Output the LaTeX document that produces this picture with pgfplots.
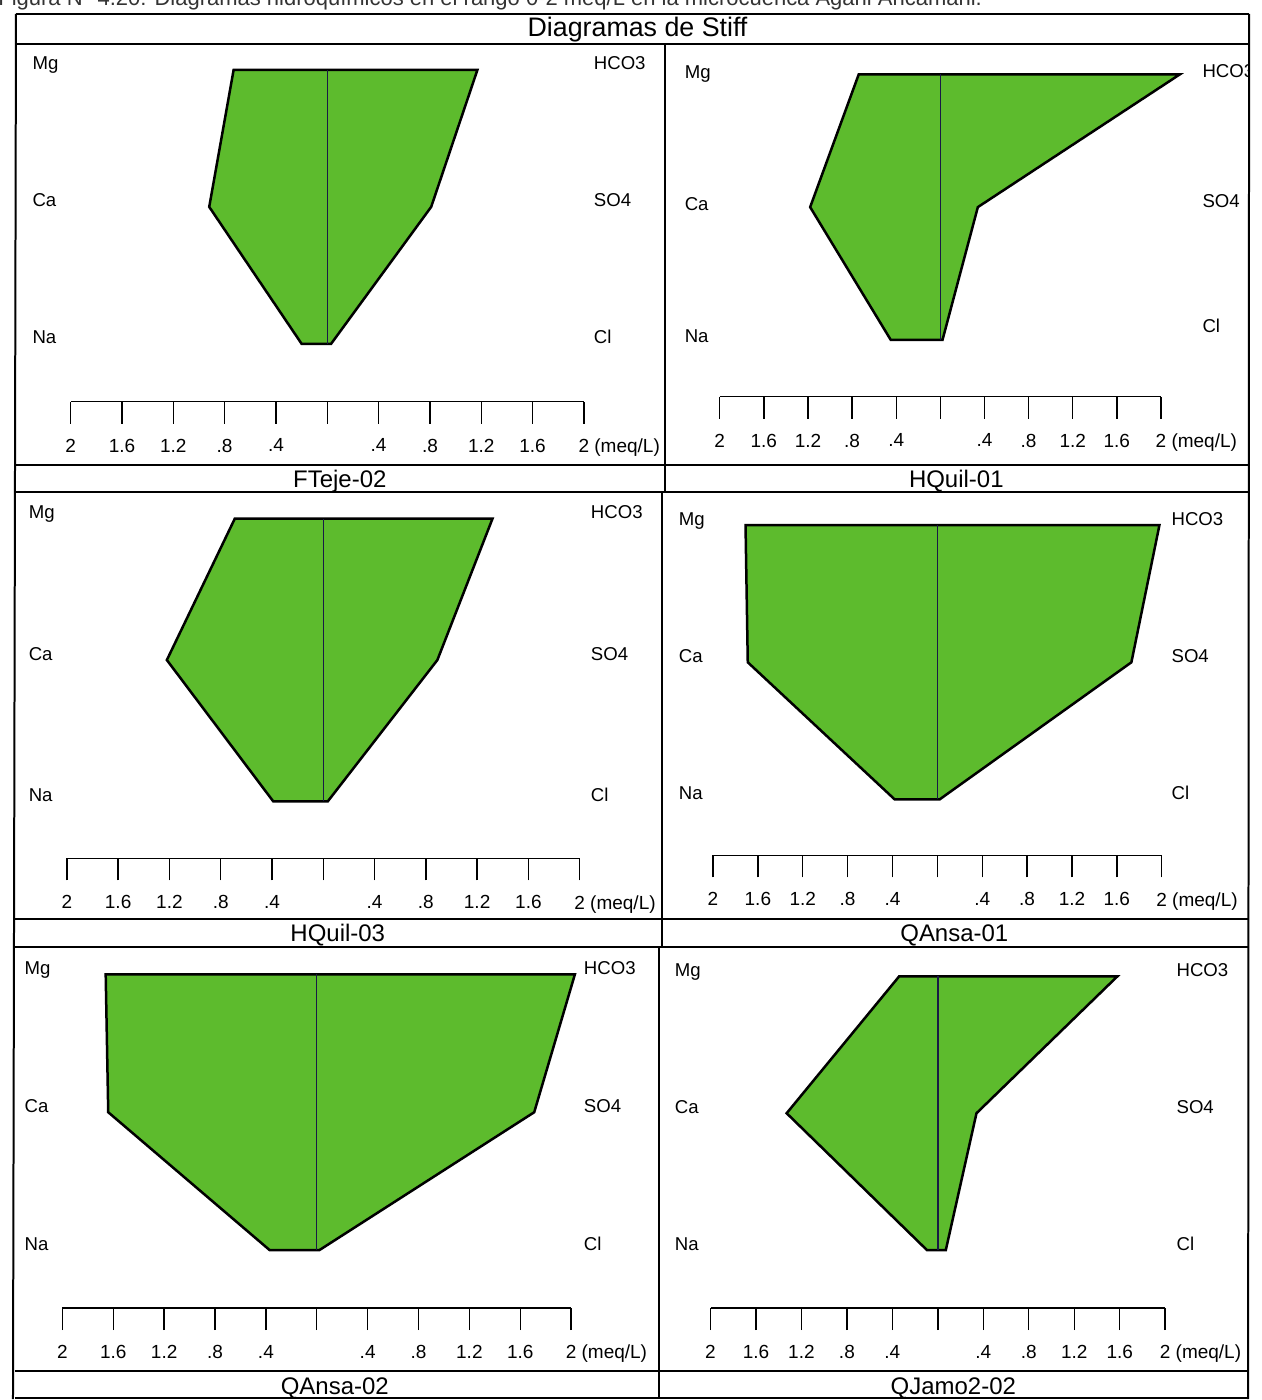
\documentclass[border=0pt]{standalone}
\usepackage{fontspec}
\setmainfont{Liberation Sans}
\usepackage{pgfplots}
\pgfplotsset{compat=1.18}

\definecolor{stiffgreen}{RGB}{93,187,45}
\definecolor{zeroline}{RGB}{25,25,70}

\newcommand{\ionfont}{\fontsize{9.3}{11}\selectfont}

\tikzset{ion/.style={anchor=base west, font=\ionfont, inner sep=0pt}}

% one Stiff panel: cations to the left (Mg, Ca, Na), anions to the right (HCO3, SO4, Cl)
\pgfplotsset{
  stiff/.style={
    scale only axis, clip=false, anchor=south west,
    xmin=-2, xmax=2, ymax=2,
    axis x line*=bottom, axis y line=none,
    axis line style={line width=0.75pt, black},
    xtick={-2,-1.6,-1.2,-0.8,-0.4,0,0.4,0.8,1.2,1.6,2},
    xticklabels={2,1.6,1.2,.8,.4,,.4,.8,1.2,1.6,{2\rlap{ (meq/L)}}},
    tick align=outside, major tick length=11pt,
    xtick style={line width=0.7pt, black},
    xticklabel style={font=\fontsize{9.5}{11}\selectfont, yshift=-4pt},
    /pgf/number format/assume math mode=true,
  },
  poly/.style={fill=stiffgreen, draw=black, line width=1.25pt, line join=miter, miter limit=4, mark=none},
  zero/.style={zeroline, line width=0.7pt, mark=none},
}

\begin{document}
\begin{tikzpicture}
\begin{scope}[x=0.5pt, y=-0.5pt]
  \useasboundingbox (0,0) rectangle (1256,1400);
  % caption line running above the figure
  \begin{scope}
    \clip (0,0) rectangle (1256,13);
    \node[anchor=base west, font=\fontsize{11}{13}\selectfont, text=black!80, inner sep=0pt]
      at (-2,6) {Figura N° 4.20: Diagramas hidroquímicos en el rango 0-2 meq/L en la microcuenca Agani Ancamani.};
  \end{scope}
\end{scope}

% FTeje-02
\begin{axis}[stiff, at={(35.35pt,-201pt)}, width=256.8pt, height=166pt, ymin=-0.423]
  \addplot[poly] coordinates {(-0.73,2) (-0.92,1) (-0.20,0) (0.03,0) (0.81,1) (1.17,2)} -- cycle;
  \addplot[zero] coordinates {(0,0) (0,2)};
  \node[ion] at (axis cs:-2.30,2) {Mg};
  \node[ion] at (axis cs:-2.30,1) {Ca};
  \node[ion] at (axis cs:-2.30,0) {Na};
  \node[ion] at (axis cs:2.075,2) {HCO3};
  \node[ion] at (axis cs:2.075,1) {SO4};
  \node[ion] at (axis cs:2.075,0) {Cl};
\end{axis}

% HQuil-01
\begin{axis}[stiff, at={(360.1pt,-198.5pt)}, width=220.8pt, height=161.25pt, ymin=-0.429]
  \addplot[poly] coordinates {(-0.74,2) (-1.18,1) (-0.45,0) (0.02,0) (0.34,1) (2.17,2)} -- cycle;
  \addplot[zero] coordinates {(0,0) (0,2)};
  \node[ion] at (axis cs:-2.32,1.97) {Mg};
  \node[ion] at (axis cs:-2.32,0.976) {Ca};
  \node[ion] at (axis cs:-2.32,-0.02) {Na};
  \node[ion] at (axis cs:2.373,1.977) {HCO3};
  \node[ion] at (axis cs:2.373,0.998) {SO4};
  \node[ion] at (axis cs:2.373,0.056) {Cl};
\end{axis}

% HQuil-03
\begin{axis}[stiff, at={(33.45pt,-429.5pt)}, width=256.6pt, height=170pt, ymin=-0.403]
  \addplot[poly] coordinates {(-0.69,2) (-1.22,1) (-0.39,0) (0.035,0) (0.89,1) (1.32,2)} -- cycle;
  \addplot[zero] coordinates {(0,0) (0,2)};
  \node[ion] at (axis cs:-2.30,2) {Mg};
  \node[ion] at (axis cs:-2.30,1) {Ca};
  \node[ion] at (axis cs:-2.30,0) {Na};
  \node[ion] at (axis cs:2.085,2) {HCO3};
  \node[ion] at (axis cs:2.085,1) {SO4};
  \node[ion] at (axis cs:2.085,0) {Cl};
\end{axis}

% QAnsa-01
\begin{axis}[stiff, at={(356.75pt,-428pt)}, width=224.5pt, height=165.25pt, ymin=-0.408]
  \addplot[poly] coordinates {(-1.71,2) (-1.69,1) (-0.38,0) (0.02,0) (1.73,1) (1.98,2)} -- cycle;
  \addplot[zero] coordinates {(0,0) (0,2)};
  \node[ion] at (axis cs:-2.307,2) {Mg};
  \node[ion] at (axis cs:-2.307,1) {Ca};
  \node[ion] at (axis cs:-2.307,0) {Na};
  \node[ion] at (axis cs:2.085,2) {HCO3};
  \node[ion] at (axis cs:2.085,1) {SO4};
  \node[ion] at (axis cs:2.085,0) {Cl};
\end{axis}

% QAnsa-02
\begin{axis}[stiff, at={(31.25pt,-654.5pt)}, width=254.5pt, height=167pt, ymin=-0.42]
  \addplot[poly] coordinates {(-1.66,2) (-1.64,1) (-0.37,0) (0.02,0) (1.71,1) (2.03,2)} -- cycle;
  \addplot[zero] coordinates {(0,0) (0,2)};
  \node[ion] at (axis cs:-2.30,2) {Mg};
  \node[ion] at (axis cs:-2.30,1) {Ca};
  \node[ion] at (axis cs:-2.30,0) {Na};
  \node[ion] at (axis cs:2.098,2) {HCO3};
  \node[ion] at (axis cs:2.098,1) {SO4};
  \node[ion] at (axis cs:2.098,0) {Cl};
\end{axis}

% QJamo2-02
\begin{axis}[stiff, at={(355.5pt,-654.5pt)}, width=227.5pt, height=166pt, ymin=-0.423]
  \addplot[poly] coordinates {(-0.34,2) (-1.33,1) (-0.095,0) (0.07,0) (0.34,1) (1.58,2)} -- cycle;
  \addplot[zero] coordinates {(0,0) (0,2)};
  \node[ion] at (axis cs:-2.316,2) {Mg};
  \node[ion] at (axis cs:-2.316,1) {Ca};
  \node[ion] at (axis cs:-2.316,0) {Na};
  \node[ion] at (axis cs:2.097,2) {HCO3};
  \node[ion] at (axis cs:2.097,1) {SO4};
  \node[ion] at (axis cs:2.097,0) {Cl};
\end{axis}

% table frame, title band and sample names
\begin{scope}[x=0.5pt, y=-0.5pt, line width=1pt]
  \fill[white] (1251,40) rectangle (1262,1400);
  \draw (16,14) -- (1250,14);
  \draw (16,14) -- (13,1400);
  \draw (1250,14) -- (1249,1400);
  \foreach \yy in {44,465,492,920,948,1372,1399} {
    \draw (15,\yy) -- (1250,\yy);
  }
  \draw (665,44) -- (665,492);
  \draw (662,492) -- (662,948);
  \draw (659,948) -- (659,1400);
  \node[anchor=base, font=\fontsize{13.4}{16}\selectfont, inner sep=0pt] at (638,36.5) {Diagramas de Stiff};
  \begin{scope}[every node/.style={anchor=base, font=\fontsize{12}{14}\selectfont, inner sep=0pt}]
    \node at (340,487.5) {FTeje-02};
    \node at (957,487.5) {HQuil-01};
    \node at (338,942.5) {HQuil-03};
    \node at (955,942.5) {QAnsa-01};
    \node at (335,1395.5) {QAnsa-02};
    \node at (954,1395.5) {QJamo2-02};
  \end{scope}
\end{scope}
\end{tikzpicture}
\end{document}
